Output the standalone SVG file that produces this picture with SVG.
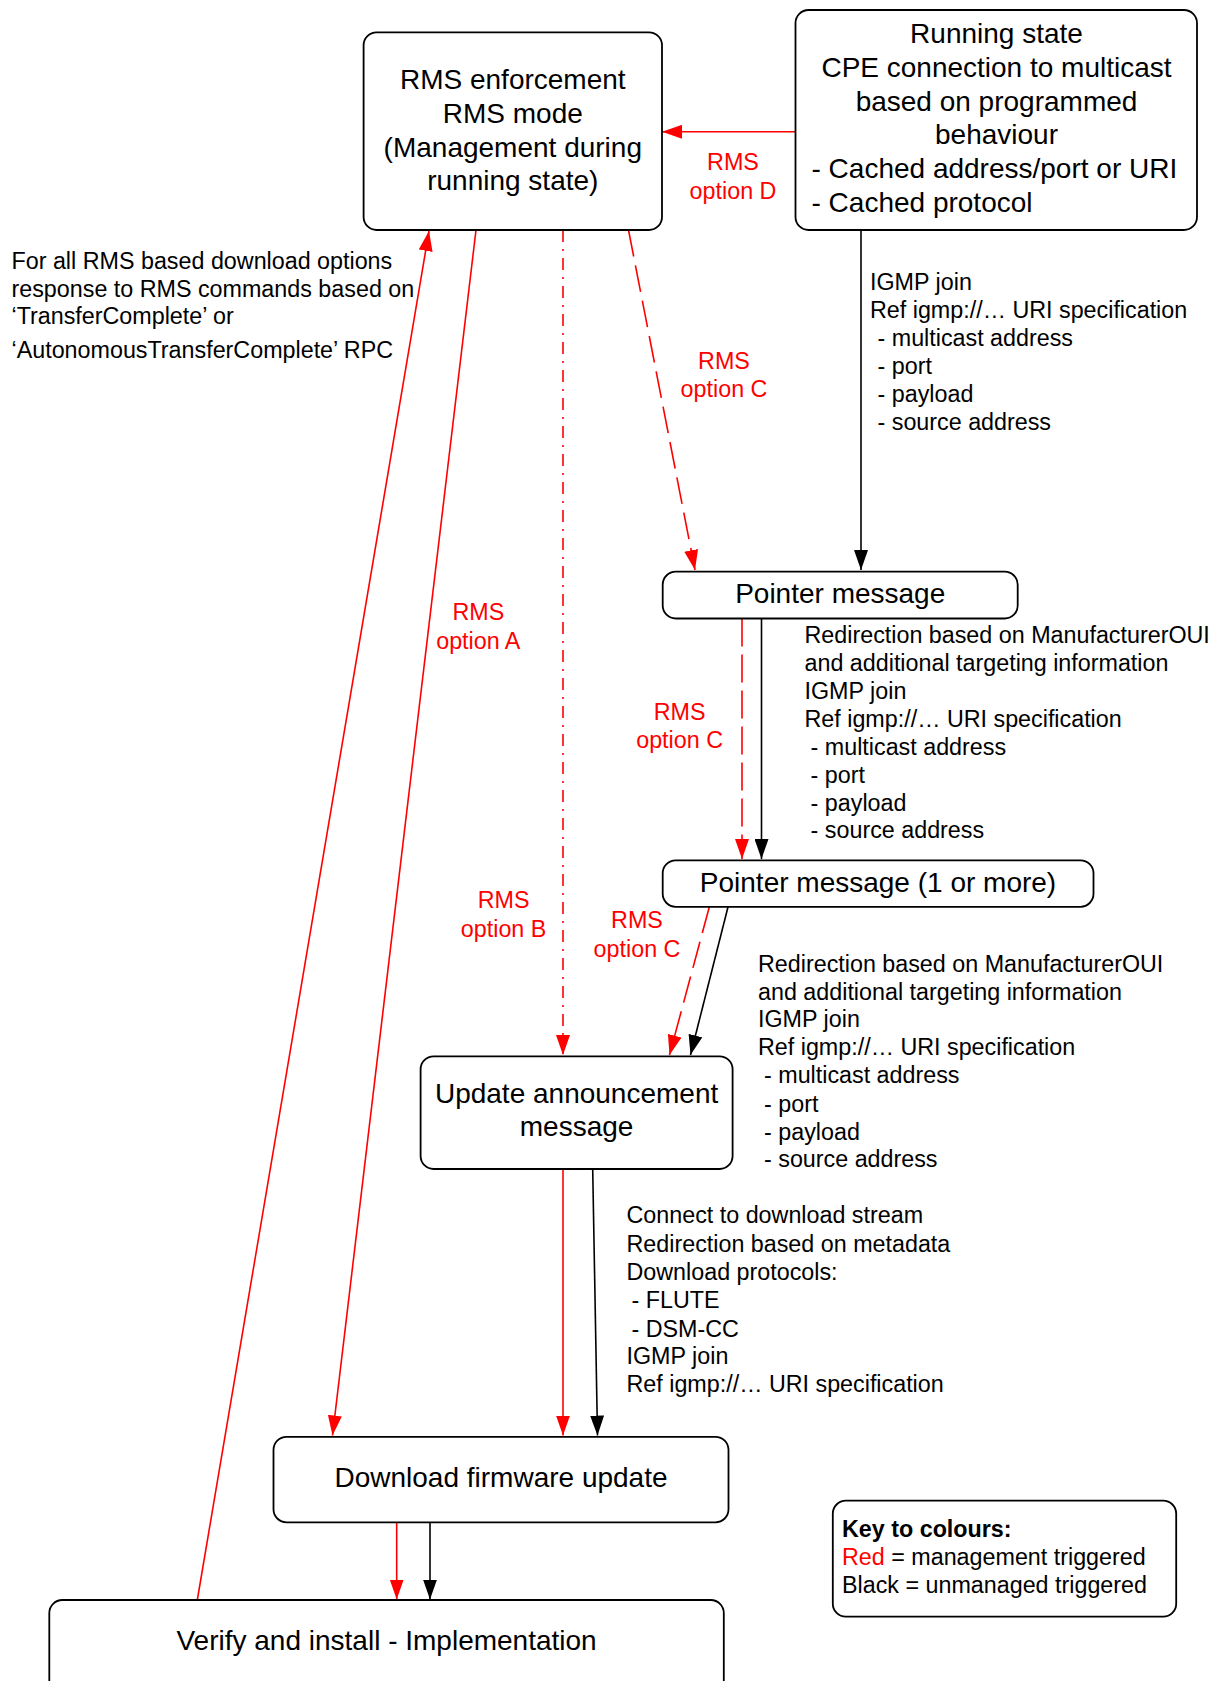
<svg xmlns="http://www.w3.org/2000/svg" width="1215" height="1681" viewBox="0 0 1215 1681">
<style>
.box{fill:#fff;stroke:#000;stroke-width:1.8}
.big{font-family:"Liberation Sans",Arial,sans-serif;font-size:28px;fill:#000}
.sm{font-family:"Liberation Sans",Arial,sans-serif;font-size:23.3px;fill:#000}
.red{fill:#f00}
.c{text-anchor:middle}
.lr{stroke:#f00;stroke-width:1.6;fill:none}
.lb{stroke:#000;stroke-width:1.6;fill:none}
</style>
<defs>
<marker id="ar" viewBox="0 0 20 14" refX="20" refY="7" markerWidth="20" markerHeight="14" orient="auto" markerUnits="userSpaceOnUse"><path d="M0,0 L20,7 L0,14 z" fill="#f00"/></marker>
<marker id="ab" viewBox="0 0 20 14" refX="20" refY="7" markerWidth="20" markerHeight="14" orient="auto" markerUnits="userSpaceOnUse"><path d="M0,0 L20,7 L0,14 z" fill="#000"/></marker>
</defs>
<rect width="1215" height="1681" fill="#fff"/>

<g id="connectors">
<line class="lr" x1="795.5" y1="131.8" x2="662" y2="131.8" marker-end="url(#ar)"/>
<line class="lb" x1="861" y1="230" x2="861" y2="570" marker-end="url(#ab)"/>
<line class="lr" x1="628.5" y1="230" x2="695" y2="570" stroke-dasharray="27 9" marker-end="url(#ar)"/>
<line class="lr" x1="742" y1="618.5" x2="742" y2="859" stroke-dasharray="28 8" marker-end="url(#ar)"/>
<line class="lb" x1="761.5" y1="618.5" x2="761.5" y2="859" marker-end="url(#ab)"/>
<line class="lr" x1="709.3" y1="907" x2="669.5" y2="1055" stroke-dasharray="27 9" marker-end="url(#ar)"/>
<line class="lb" x1="728" y1="907" x2="690.5" y2="1055" marker-end="url(#ab)"/>
<line class="lr" x1="563" y1="230" x2="563" y2="1055" stroke-dasharray="12 7 2 7" marker-end="url(#ar)"/>
<line class="lr" x1="476" y1="230" x2="332.5" y2="1435.5" marker-end="url(#ar)"/>
<line class="lr" x1="563" y1="1169" x2="563" y2="1435.5" marker-end="url(#ar)"/>
<line class="lb" x1="592.7" y1="1169" x2="597.5" y2="1435.5" marker-end="url(#ab)"/>
<line class="lr" x1="396.7" y1="1522.3" x2="396.7" y2="1599.5" marker-end="url(#ar)"/>
<line class="lb" x1="430" y1="1522.3" x2="430" y2="1599.5" marker-end="url(#ab)"/>
<line class="lr" x1="197.3" y1="1600" x2="429" y2="231" marker-end="url(#ar)"/>
</g>

<g id="labels">
<text class="sm red c" x="733" y="170">RMS</text>
<text class="sm red c" x="733" y="199.3">option D</text>
<text class="sm red c" x="724" y="369">RMS</text>
<text class="sm red c" x="724" y="396.7">option C</text>
<text class="sm red c" x="679.6" y="720">RMS</text>
<text class="sm red c" x="679.6" y="748.3">option C</text>
<text class="sm red c" x="637" y="928.3">RMS</text>
<text class="sm red c" x="637" y="956.7">option C</text>
<text class="sm red c" x="503.6" y="908.3">RMS</text>
<text class="sm red c" x="503.6" y="937.3">option B</text>
<text class="sm red c" x="478.3" y="619.5">RMS</text>
<text class="sm red c" x="478.3" y="648.5">option A</text>
</g>

<g id="note-left">
<text class="sm" x="11.5" y="269.3">For all RMS based download options</text>
<text class="sm" x="11.5" y="296.7">response to RMS commands based on</text>
<text class="sm" x="11.5" y="324.3">‘TransferComplete’ or</text>
<text class="sm" x="11.5" y="358.3">‘AutonomousTransferComplete’ RPC</text>
</g>

<g id="note-igmp1">
<text class="sm" x="870" y="290">IGMP join</text>
<text class="sm" x="870" y="318.3">Ref igmp://… URI specification</text>
<text class="sm" x="877.5" y="346">- multicast address</text>
<text class="sm" x="877.5" y="374.3">- port</text>
<text class="sm" x="877.5" y="401.7">- payload</text>
<text class="sm" x="877.5" y="430">- source address</text>
</g>

<g id="note-igmp2">
<text class="sm" x="804.5" y="643.3">Redirection based on ManufacturerOUI</text>
<text class="sm" x="804.5" y="670.5">and additional targeting information</text>
<text class="sm" x="804.5" y="699">IGMP join</text>
<text class="sm" x="804.5" y="726.7">Ref igmp://… URI specification</text>
<text class="sm" x="810.6" y="755">- multicast address</text>
<text class="sm" x="810.6" y="782.7">- port</text>
<text class="sm" x="810.6" y="810.7">- payload</text>
<text class="sm" x="810.6" y="838.3">- source address</text>
</g>

<g id="note-igmp3">
<text class="sm" x="758" y="971.7">Redirection based on ManufacturerOUI</text>
<text class="sm" x="758" y="1000">and additional targeting information</text>
<text class="sm" x="758" y="1026.7">IGMP join</text>
<text class="sm" x="758" y="1055">Ref igmp://… URI specification</text>
<text class="sm" x="764" y="1083.3">- multicast address</text>
<text class="sm" x="764" y="1111.7">- port</text>
<text class="sm" x="764" y="1140">- payload</text>
<text class="sm" x="764" y="1166.7">- source address</text>
</g>

<g id="note-download">
<text class="sm" x="626.5" y="1223.3">Connect to download stream</text>
<text class="sm" x="626.5" y="1251.7">Redirection based on metadata</text>
<text class="sm" x="626.5" y="1280">Download protocols:</text>
<text class="sm" x="631.5" y="1308.3">- FLUTE</text>
<text class="sm" x="631.5" y="1336.7">- DSM-CC</text>
<text class="sm" x="626.5" y="1364">IGMP join</text>
<text class="sm" x="626.5" y="1391.7">Ref igmp://… URI specification</text>
</g>

<g id="rms-enforcement">
<rect class="box" x="363.6" y="32.3" width="298.4" height="197.7" rx="13"/>
<text class="big c" x="512.8" y="89.3">RMS enforcement</text>
<text class="big c" x="512.8" y="122.7">RMS mode</text>
<text class="big c" x="512.8" y="156.7">(Management during</text>
<text class="big c" x="512.8" y="190">running state)</text>
</g>

<g id="running-state">
<rect class="box" x="795.5" y="10" width="401.5" height="220" rx="13"/>
<text class="big c" x="996.5" y="43.3">Running state</text>
<text class="big c" x="996.5" y="77.3">CPE connection to multicast</text>
<text class="big c" x="996.5" y="110.5">based on programmed</text>
<text class="big c" x="996.5" y="144">behaviour</text>
<text class="big" x="811.5" y="178.3">- Cached address/port or URI</text>
<text class="big" x="811.5" y="211.7">- Cached protocol</text>
</g>

<g id="pointer-message">
<rect class="box" x="662.7" y="571.7" width="355" height="46.8" rx="13"/>
<text class="big c" x="840.2" y="602.7">Pointer message</text>
</g>

<g id="pointer-message-more">
<rect class="box" x="662.7" y="860.3" width="430.8" height="46.5" rx="13"/>
<text class="big c" x="878" y="891.7">Pointer message (1 or more)</text>
</g>

<g id="update-announcement">
<rect class="box" x="420.6" y="1056.3" width="312" height="112.7" rx="13"/>
<text class="big c" x="576.6" y="1103.3">Update announcement</text>
<text class="big c" x="576.6" y="1136">message</text>
</g>

<g id="download-firmware">
<rect class="box" x="273.5" y="1436.8" width="455" height="85.5" rx="13"/>
<text class="big c" x="501" y="1486.7">Download firmware update</text>
</g>

<g id="verify-install">
<rect class="box" x="49.3" y="1600" width="674.5" height="110" rx="13"/>
<text class="big c" x="386.6" y="1650">Verify and install - Implementation</text>
</g>

<g id="key">
<rect class="box" x="832.8" y="1500.7" width="343.4" height="116" rx="13"/>
<text class="sm" x="842" y="1536.7" font-weight="bold">Key to colours:</text>
<text class="sm" x="842" y="1565"><tspan fill="#f00">Red</tspan> = management triggered</text>
<text class="sm" x="842" y="1592.7">Black = unmanaged triggered</text>
</g>
</svg>
